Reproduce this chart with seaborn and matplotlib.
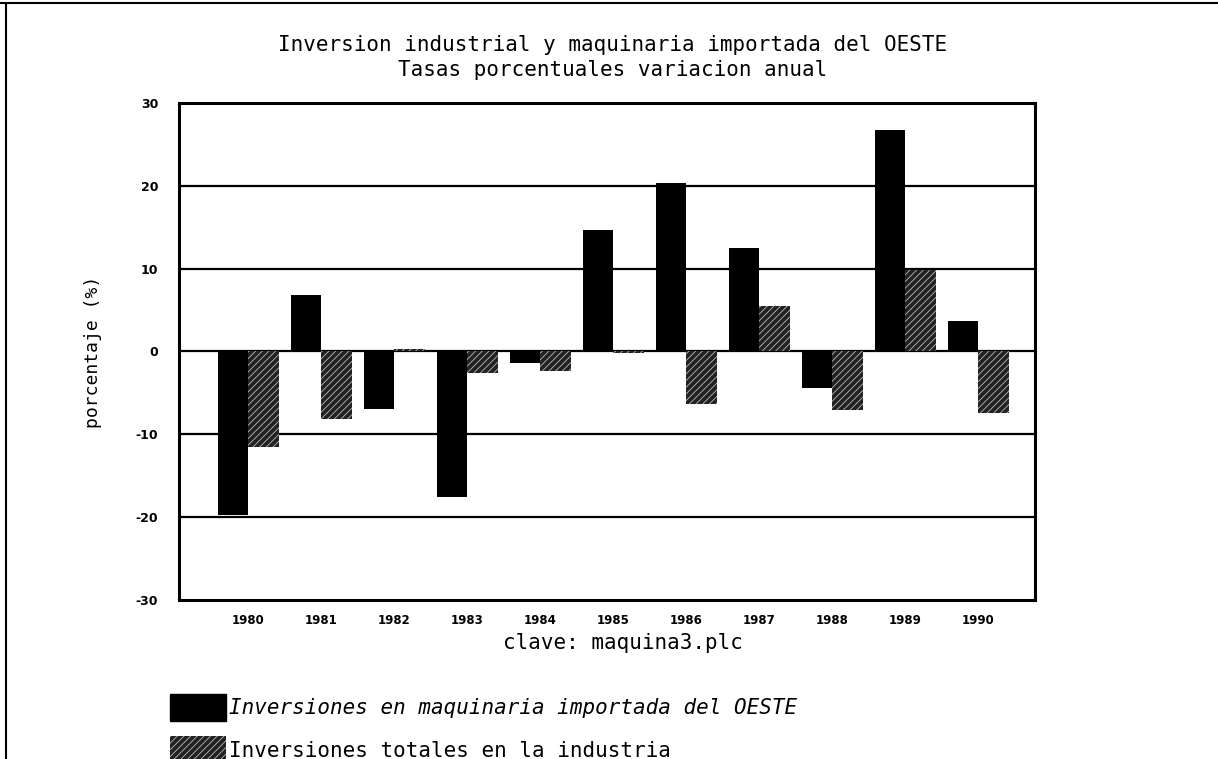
import pandas as pd
import numpy as np
import matplotlib
matplotlib.use("Agg")
import matplotlib.pyplot as plt
import seaborn as sns
from matplotlib.patches import Patch
from matplotlib.lines import Line2D

# values (annual % change)
years = ["1980", "1981", "1982", "1983", "1984", "1985", "1986", "1987", "1988", "1989", "1990"]
maquinaria = [-19.7, 6.8, -7.0, -17.6, -1.4, 14.7, 20.4, 12.5, -4.4, 26.8, 3.7]
industria = [-11.5, -8.2, 0.3, -2.6, -2.4, -0.2, -6.3, 5.5, -7.1, 9.8, -7.4]
series_names = ["Inversiones en maquinaria importada del OESTE",
                "Inversiones totales en la industria"]
y_ticks = [-30, -20, -10, 0, 10, 20, 30]

df = pd.DataFrame({"year": years, series_names[0]: maquinaria, series_names[1]: industria})
df = df.melt(id_vars="year", var_name="serie", value_name="pct")

sns.set_theme(style="white")
plt.rcParams["font.family"] = ["DejaVu Sans Mono", "DejaVu Sans"]
plt.rcParams["text.color"] = "black"
plt.rcParams["axes.labelcolor"] = "black"
plt.rcParams["xtick.color"] = "black"
plt.rcParams["ytick.color"] = "black"
plt.rcParams["hatch.linewidth"] = 0.6

fig = plt.figure(figsize=(12.18, 7.59), dpi=100)
ax = fig.add_axes([0.147, 0.2095, 0.703, 0.6548])

sns.barplot(data=df, x="year", y="pct", hue="serie", hue_order=series_names,
            palette=["black", "#222222"], width=0.84, ax=ax, legend=False,
            saturation=1, linewidth=0)

# second series gets a light hatch on dark fill
n = len(years)
for p in ax.patches[n:2 * n]:
    p.set_hatch("/////")
    p.set_edgecolor("#bbbbbb")
    p.set_linewidth(0)

ax.set_ylim(-30, 30)
ax.set_xlim(-0.95, 10.78)
ax.set_yticks(y_ticks)
ax.set_yticklabels([str(v) for v in y_ticks], fontsize=9, fontweight="bold", family="DejaVu Sans")
ax.set_xticks(range(n))
ax.set_xticklabels(years, fontsize=8.5, fontweight="bold", family="DejaVu Sans")
ax.tick_params(axis="y", length=0, pad=15)
ax.tick_params(axis="x", length=0, pad=10)
for v in [-20, -10, 0, 10, 20]:
    ax.axhline(v, color="black", lw=1.6, zorder=0.5)
for s in ax.spines.values():
    s.set_visible(True)
    s.set_color("black")
    s.set_linewidth(2.2)
ax.set_xlabel("")
ax.set_ylabel("porcentaje (%)", fontsize=13, labelpad=24)

fig.text(0.503, 1 - 45 / 759, "Inversion industrial y maquinaria importada del OESTE",
         ha="center", va="center", fontsize=15)
fig.text(0.503, 1 - 70 / 759, "Tasas porcentuales variacion anual",
         ha="center", va="center", fontsize=15)
fig.text(623 / 1218, 1 - 643 / 759, "clave: maquina3.plc", ha="center", va="center", fontsize=15)

handles = [Patch(facecolor="black", edgecolor="black"),
           Patch(facecolor="#222222", edgecolor="#bbbbbb", hatch="/////", linewidth=0)]
leg = fig.legend(handles, series_names, loc="upper left",
                 bbox_to_anchor=(170 / 1218, 1 - 694 / 759), frameon=False,
                 fontsize=15, handlelength=2.7, handleheight=1.6,
                 handletextpad=0.15, labelspacing=0.75, borderaxespad=0, borderpad=0)
leg.get_texts()[0].set_style("italic")

# scanned page border
fig.add_artist(Line2D([0.005, 0.005], [0.0, 0.996], color="black", lw=1.5))
fig.add_artist(Line2D([0.0, 1.0], [0.996, 0.996], color="black", lw=1.5))

fig.savefig("out.png", dpi=100, facecolor="white")
